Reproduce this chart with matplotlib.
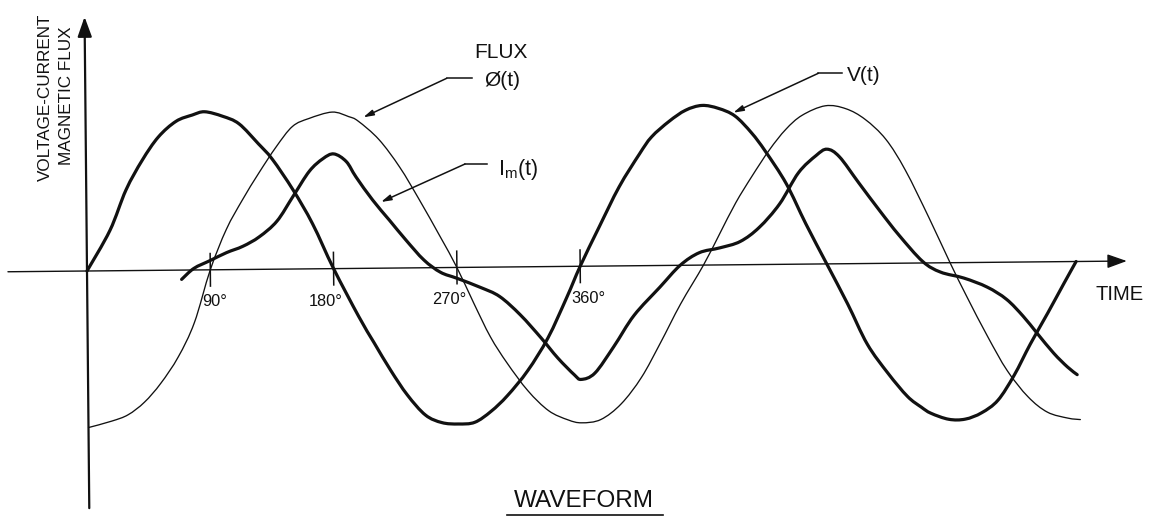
import numpy as np
import matplotlib
matplotlib.use('Agg')
import matplotlib.pyplot as plt
import matplotlib.transforms as mtransforms
from matplotlib.path import Path
from matplotlib.patches import PathPatch

plt.rcParams['font.family'] = ['Liberation Sans', 'DejaVu Sans']

# electrical degrees vs amplitude (peak of V ~ 1)
v_deg = [0, 17, 29, 41, 53, 66, 78, 87, 100, 112, 126, 136, 151, 165, 180,
         198, 209, 221, 233, 246, 258, 270, 282, 294, 306, 321, 336, 350, 360,
         374, 389, 404, 413, 426, 438, 450, 462, 474, 486, 496, 511, 525, 540,
         555, 569, 584, 598, 608, 615, 628, 640, 652, 664, 676, 688, 701, 713, 722]
v_amp = [0.00, 0.26, 0.52, 0.71, 0.86, 0.96, 1.00, 1.02, 0.99, 0.94, 0.81, 0.71, 0.51, 0.29, 0.00,
         -0.31, -0.48, -0.66, -0.82, -0.95, -1.00, -1.01, -1.00, -0.93, -0.83, -0.67, -0.46, -0.20, 0.00,
         0.25, 0.51, 0.72, 0.83, 0.93, 1.00, 1.03, 1.01, 0.96, 0.85, 0.73, 0.52, 0.26, 0.00,
         -0.26, -0.52, -0.71, -0.86, -0.93, -0.97, -1.01, -1.01, -0.97, -0.89, -0.73, -0.53, -0.33, -0.14, 0.00]

flux_deg = [0, 17, 29, 41, 53, 66, 78, 90, 102, 114, 126, 139, 151, 163, 180, 192,
            199, 214, 229, 243, 258, 270, 282, 294, 306, 321, 336, 350, 360, 374,
            389, 404, 418, 433, 450, 462, 474, 486, 499, 511, 523, 540, 555, 569,
            584, 598, 615, 630, 642, 657, 671, 686, 700, 715, 724]
flux_amp = [-1.01, -0.97, -0.93, -0.85, -0.73, -0.56, -0.34, 0.00, 0.26, 0.45, 0.62, 0.79, 0.92, 0.97, 1.01, 0.98,
            0.95, 0.83, 0.65, 0.44, 0.20, 0.00, -0.23, -0.45, -0.62, -0.80, -0.93, -0.99, -1.01, -0.99,
            -0.89, -0.72, -0.50, -0.25, 0.00, 0.20, 0.40, 0.57, 0.74, 0.87, 0.96, 1.02, 1.00, 0.93,
            0.80, 0.60, 0.29, 0.00, -0.22, -0.48, -0.70, -0.87, -0.97, -1.01, -1.02]

im_deg = [69, 78, 90, 102, 114, 126, 139, 151, 163, 173, 181, 190, 197, 209, 221,
          233, 246, 258, 270, 287, 301, 316, 331, 343, 355, 360, 370, 384, 399,
          418, 433, 447, 462, 477, 491, 506, 520, 533, 541, 550, 564, 579,
          593, 610, 623, 640, 657, 671, 683, 693, 705, 715, 722]
im_amp = [-0.06, 0.01, 0.06, 0.11, 0.15, 0.21, 0.31, 0.47, 0.63, 0.71, 0.74, 0.69, 0.59, 0.44, 0.31,
          0.18, 0.05, -0.03, -0.07, -0.13, -0.19, -0.31, -0.46, -0.59, -0.70, -0.73, -0.69, -0.52, -0.32,
          -0.14, 0.00, 0.08, 0.11, 0.15, 0.24, 0.39, 0.59, 0.70, 0.74, 0.69, 0.52, 0.34,
          0.18, 0.01, -0.06, -0.10, -0.16, -0.24, -0.35, -0.46, -0.59, -0.68, -0.73]

tick_deg = [90, 180, 270, 360]
tick_labels = ['90°', '180°', '270°', '360°']

W, H = 1157, 519
x0, y0 = 87, 271          # origin of the sketch in image pixels
px_deg = 123.3 / 90       # pixels per degree
px_amp = 155.0            # pixels per unit amplitude

fig = plt.figure(figsize=(W / 100, H / 100), dpi=100)
ax = fig.add_axes([0, 0, 1, 1])
ax.set_xlim(-x0 / px_deg, (W - x0) / px_deg)
ax.set_ylim(-(H - y0) / px_amp, y0 / px_amp)
ax.axis('off')

# the scanned drawing is rotated a little
tilt = mtransforms.Affine2D().rotate_deg_around(x0, H - y0, 0.55)
tr = ax.transData + tilt
pix = mtransforms.Affine2D().scale(1, -1).translate(0, H)   # image pixels, y down

ink = '#111111'


def smooth_path(xs, ys):
    # bezier segments through every read point (catmull-rom handles)
    p = np.column_stack([xs, ys]).astype(float)
    n = len(p)
    verts = [p[0]]
    codes = [Path.MOVETO]
    for i in range(n - 1):
        pa = p[i - 1] if i > 0 else p[i]
        pb = p[i + 2] if i + 2 < n else p[i + 1]
        verts += [p[i] + (p[i + 1] - pa) / 6, p[i + 1] - (pb - p[i]) / 6, p[i + 1]]
        codes += [Path.CURVE4] * 3
    return Path(verts, codes)


# axes with arrows
arrow_style = '-|>,head_length=1.2,head_width=0.43'
ax.annotate('', xy=(759, 0), xytext=(-57.7, 0), xycoords=tr, textcoords=tr,
            arrowprops=dict(arrowstyle=arrow_style, mutation_scale=10, lw=1.0,
                            color=ink, shrinkA=0, shrinkB=0))
ax.annotate('', xy=(0, 1.64), xytext=(0, -1.53), xycoords=tr, textcoords=tr,
            arrowprops=dict(arrowstyle=arrow_style, mutation_scale=10, lw=1.6,
                            color=ink, shrinkA=0, shrinkB=0))

for d in tick_deg:
    ax.plot([d, d], [-0.105, 0.105], color=ink, lw=1.1, transform=tr)

# waveforms
for xs, ys, w in [(flux_deg, flux_amp, 0.95), (v_deg, v_amp, 2.3), (im_deg, im_amp, 2.3)]:
    ax.add_patch(PathPatch(smooth_path(xs, ys), fill=False, edgecolor=ink, lw=w,
                           transform=tr, capstyle='round', joinstyle='round'))

# tick labels
tick_pos = [(215, 306), (326, 306), (449, 304), (588, 303)]
for (tx, ty), lab in zip(tick_pos, tick_labels):
    ax.text(tx, ty, lab, transform=pix, ha='center', va='baseline', fontsize=11.8, color=ink)

# axis titles
ax.text(49.5, 97.5, 'VOLTAGE-CURRENT', transform=pix, rotation=90, rotation_mode='anchor',
        ha='center', va='baseline', fontsize=12.3, color=ink)
ax.text(70.7, 96, 'MAGNETIC FLUX', transform=pix, rotation=90, rotation_mode='anchor',
        ha='center', va='baseline', fontsize=12.3, color=ink)
ax.text(1095, 300, 'TIME', transform=pix, ha='left', va='baseline', fontsize=14.5, color=ink)

# leader labels
leader_head = '-|>,head_length=0.6,head_width=0.17'
def leader(pts, tip):
    xs = [p[0] for p in pts]
    ys = [p[1] for p in pts]
    ax.plot(xs, ys, color=ink, lw=1.1, transform=pix)
    ax.annotate('', xy=tip, xytext=pts[-1], xycoords=pix, textcoords=pix,
                arrowprops=dict(arrowstyle=leader_head, mutation_scale=10, lw=1.1,
                                color=ink, shrinkA=0, shrinkB=0))

ax.text(501, 58.3, 'FLUX', transform=pix, ha='center', va='baseline', fontsize=15, color=ink)
ax.text(502, 85.5, 'Ø(t)', transform=pix, ha='center', va='baseline', fontsize=15, color=ink)
leader([(472, 78.3), (446.7, 78.3)], (363.3, 117.3))

ax.text(498, 175, r'I$_{\mathregular{m}}$(t)', transform=pix, ha='left', va='baseline',
        fontsize=15.5, color=ink)
leader([(487, 164), (465, 164)], (381, 202))

ax.text(847, 81, 'V(t)', transform=pix, ha='left', va='baseline', fontsize=15, color=ink)
leader([(842, 73.3), (818.3, 73.3)], (733.3, 112.7))

# caption
ax.text(584, 506.7, 'WAVEFORM', transform=pix, ha='center', va='baseline', fontsize=17.5, color=ink)
ax.plot([507, 663], [515, 515], color=ink, lw=1.2, transform=pix)

fig.savefig('out.png', dpi=100)
